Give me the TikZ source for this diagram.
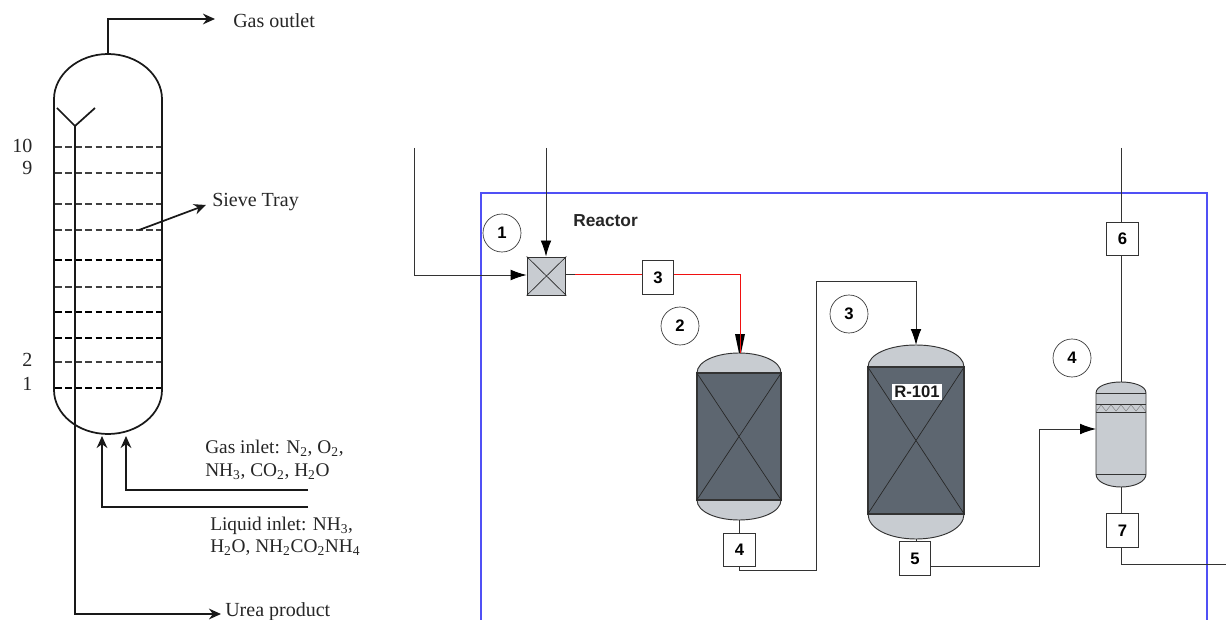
\documentclass[tikz,border=0pt]{standalone}
\usepackage{fontspec}
\setmainfont{Liberation Serif}
\newfontfamily\labelfont{Liberation Sans}
\usetikzlibrary{arrows.meta}
\definecolor{headgray}{HTML}{C8CCD1}
\definecolor{beddark}{HTML}{5D6670}
\definecolor{linegray}{HTML}{333333}
\definecolor{framecol}{HTML}{5050F5}
\definecolor{redline}{HTML}{F01010}
\tikzset{
  serifnote/.style={inner sep=0pt,anchor=west,font=\fontsize{15pt}{17pt}\selectfont,text=black!85},
  inletnote/.style={serifnote,font=\fontsize{14.5pt}{17pt}\selectfont},
  colline/.style={line width=1.3pt,black!90},
  tray/.style={line width=0.8pt,black!75,dash pattern=on 5pt off 2.6pt},
  traybold/.style={line width=1.1pt,black,dash pattern=on 5pt off 2.6pt},
  bigarrow/.style={-{Stealth[length=9pt,width=8pt]}},
  pipe/.style={line width=0.7pt,linegray},
  pipearrow/.style={pipe,-{Latex[length=12pt,width=8pt,black]}},
  redpipe/.style={line width=0.7pt,redline},
  tag/.style={draw=linegray,line width=0.7pt,fill=white,inner sep=0pt,minimum width=23.5pt,minimum height=25pt,
     font=\labelfont\bfseries\fontsize{12.5pt}{14pt}\selectfont},
  callout/.style={circle,draw=linegray,line width=0.5pt,fill=white,inner sep=0pt,minimum size=28.5pt,
     font=\labelfont\bfseries\fontsize{12.5pt}{14pt}\selectfont},
  vessel/.style={draw=linegray,line width=0.7pt,fill=headgray},
  bed/.style={draw=black!80,line width=0.8pt,fill=beddark},
  thin cross/.style={line width=0.5pt,black!85},
}
\begin{document}
\begin{tikzpicture}[x=0.75pt,y=-0.75pt]
\useasboundingbox (0,0) rectangle (1227,620);
\fill[white] (0,0) rectangle (1227,620);

% ---------- left: column ----------
\coordinate (colTop) at (108,54);
\coordinate (outCorner) at (108,19);
\coordinate (outEnd) at (215,19);
\coordinate (pipeTip) at (75,126);
\coordinate (pipeBend) at (75,614);
\coordinate (ureaEnd) at (221,614);
\coordinate (trayFrom) at (139,230);
\coordinate (trayTo) at (206,205);
\coordinate (gasStart) at (308,490);
\coordinate (gasBend) at (126,490);
\coordinate (gasEnd) at (126,436);
\coordinate (liqStart) at (308,507);
\coordinate (liqBend) at (102,507);
\coordinate (liqEnd) at (102,436);

\foreach \y in {147,173,204,230,287,362}
  \draw[tray] (55,\y) -- (162,\y);
\foreach \y in {260,312,338,388}
  \draw[traybold] (55,\y) -- (162,\y);

\draw[colline] (54,99) .. controls (54,75) and (78,54) .. (108,54)
   .. controls (138,54) and (162,75) .. (162,99) -- (162,390)
   .. controls (162,414) and (138,434) .. (108,434)
   .. controls (78,434) and (54,414) .. (54,390) -- cycle;
\draw[colline] (57,108) -- (75,126) -- (95,108);
\draw[colline,bigarrow] (colTop) -- (outCorner) -- (outEnd);
\draw[colline,bigarrow] (pipeTip) -- (pipeBend) -- (ureaEnd);
\draw[colline,bigarrow] (trayFrom) -- (trayTo);
\draw[colline,line width=1.5pt,bigarrow] (gasStart) -- (gasBend) -- (gasEnd);
\draw[colline,line width=1.5pt,bigarrow] (liqStart) -- (liqBend) -- (liqEnd);

\node[serifnote] (tGas) at (233,21) {Gas outlet};
\node[serifnote] (tSieve) at (212,202) {Sieve Tray};
\node[serifnote] (tUrea) at (225,612) {Urea product};
\node[serifnote] (n10) at (12,146) {10};
\node[serifnote] (n9) at (22,168) {9};
\node[serifnote] (n2) at (22,360) {2};
\node[serifnote] (n1) at (22,384) {1};
\node[inletnote] (tGi1) at (205,448) {Gas inlet: N\textsubscript{2}, O\textsubscript{2},};
\node[inletnote] (tGi2) at (205,472) {NH\textsubscript{3}, CO\textsubscript{2}, H\textsubscript{2}O};
\node[inletnote] (tLi1) at (210,526) {Liquid inlet: NH\textsubscript{3},};
\node[inletnote] (tLi2) at (210,548) {H\textsubscript{2}O, NH\textsubscript{2}CO\textsubscript{2}NH\textsubscript{4}};

% ---------- right: reactor frame ----------
\draw[framecol,line width=0.8pt] (481,620) -- (481,193) -- (1207,193) -- (1207,620);

\node[font=\labelfont\bfseries\fontsize{13pt}{15pt}\selectfont,text=black!85,inner sep=0pt,anchor=west] (tReactor) at (573,221) {Reactor};

% mixer
\node[draw=linegray,line width=0.7pt,fill=headgray,inner sep=0pt,minimum width=29pt,minimum height=28.5pt] (mixer) at (546.5,276) {};
\draw[thin cross] (mixer.north west) -- (mixer.south east) (mixer.north east) -- (mixer.south west);

% reactor 1
\draw[vessel] (697,373) .. controls (697,361) and (717,353) .. (739,353)
   .. controls (761,353) and (781,361) .. (781,373) -- (781,500)
   .. controls (781,512) and (761,520) .. (739,520)
   .. controls (717,520) and (697,512) .. (697,500) -- cycle;
\node[bed,inner sep=0pt,minimum width=63pt,minimum height=95.25pt] (bedA) at (739,436.5) {};
\draw[thin cross] (bedA.north west) -- (bedA.south east) (bedA.north east) -- (bedA.south west);
\coordinate (aTop) at (740,353);
\coordinate (aBot) at (739.5,520);

% reactor 2
\draw[vessel] (868,367) .. controls (868,354) and (890,345) .. (916,345)
   .. controls (942,345) and (964,354) .. (964,367) -- (964,514)
   .. controls (964,529) and (942,539) .. (916,539)
   .. controls (890,539) and (868,529) .. (868,514) -- cycle;
\node[bed,inner sep=0pt,minimum width=72pt,minimum height=110.25pt] (bedB) at (916,440.5) {};
\draw[thin cross] (bedB.north west) -- (bedB.south east) (bedB.north east) -- (bedB.south west);
\node[fill=white,inner sep=1.5pt,font=\labelfont\bfseries\fontsize{12.5pt}{14pt}\selectfont,text=black!90] (tR) at (917,392) {R-101};
\coordinate (bTop) at (916,345);
\coordinate (bBot) at (916,539);

% vessel 3
\draw[vessel] (1096,393) .. controls (1096,386) and (1108,382) .. (1121,382)
   .. controls (1134,382) and (1146,386) .. (1146,393) -- (1146,474)
   .. controls (1146,482) and (1134,487) .. (1121,487)
   .. controls (1108,487) and (1096,482) .. (1096,474) -- cycle;
\draw[pipe] (1096,393) -- (1146,393) (1096,404) -- (1146,404) (1096,412) -- (1146,412) (1096,474) -- (1146,474);
\draw[line width=0.3pt,black!55] (1096,412) -- (1101,405) -- (1106,411) -- (1111,405) -- (1116,411) -- (1121,405) -- (1126,411) -- (1131,405) -- (1136,411) -- (1141,405) -- (1146,412);
\coordinate (cTop) at (1121,382);
\coordinate (cBot) at (1121,487);
\coordinate (cIn) at (1096,429);

% tags
\node[tag] (t3) at (658,277.5) {3};
\node[tag] (t4) at (739.5,550) {4};
\node[tag] (t5) at (915,558.5) {5};
\node[tag] (t6) at (1122.5,239) {6};
\node[tag] (t7) at (1122.5,530.5) {7};

% callouts
\node[callout] (c1) at (502,233) {1};
\node[callout] (c2) at (680,326) {2};
\node[callout] (c3) at (849,314) {3};
\node[callout] (c4) at (1072,358) {4};

% pipes
\coordinate (feedA) at (414,148);
\coordinate (feedABend) at (414,275);
\coordinate (feedB) at (546,148);
\draw[pipearrow] (feedA) -- (feedABend) -- (mixer.west |- feedABend);
\draw[pipearrow] (feedB) -- (feedB |- mixer.north);

\coordinate (redStart) at (575,274);
\coordinate (redCorner) at (740,274);
\draw[pipe] (mixer.east |- redStart) -- (redStart);
\draw[redpipe] (redStart) -- (t3.west |- redStart);
\fill[black] (735,334) -- (745,334) -- (741,353) -- (739,353) -- cycle;
\draw[redpipe] (t3.east |- redCorner) -- (redCorner) -- (aTop);

\draw[pipe] (aBot) -- (t4.north -| aBot);
\coordinate (c4a) at (739.5,570);
\coordinate (c4b) at (816,570);
\coordinate (c4c) at (816,281);
\coordinate (c4d) at (916,281);
\draw[pipearrow] (t4.south -| c4a) -- (c4a) -- (c4b) -- (c4c) -- (c4d) -- (bTop);

\draw[pipe] (bBot) -- (t5.north -| bBot);
\coordinate (c5a) at (1039,566);
\coordinate (c5b) at (1039,429);
\draw[pipearrow] (t5.east |- c5a) -- (c5a) -- (c5b) -- (cIn);

\coordinate (topOut) at (1121,148);
\draw[pipe] (topOut) -- (t6.north -| topOut);
\draw[pipe] (t6.south -| topOut) -- (cTop);
\draw[pipe] (cBot) -- (t7.north -| cBot);
\coordinate (c7a) at (1121,564);
\coordinate (c7b) at (1226,564);
\draw[pipe] (t7.south -| c7a) -- (c7a) -- (c7b);
\end{tikzpicture}
\end{document}
